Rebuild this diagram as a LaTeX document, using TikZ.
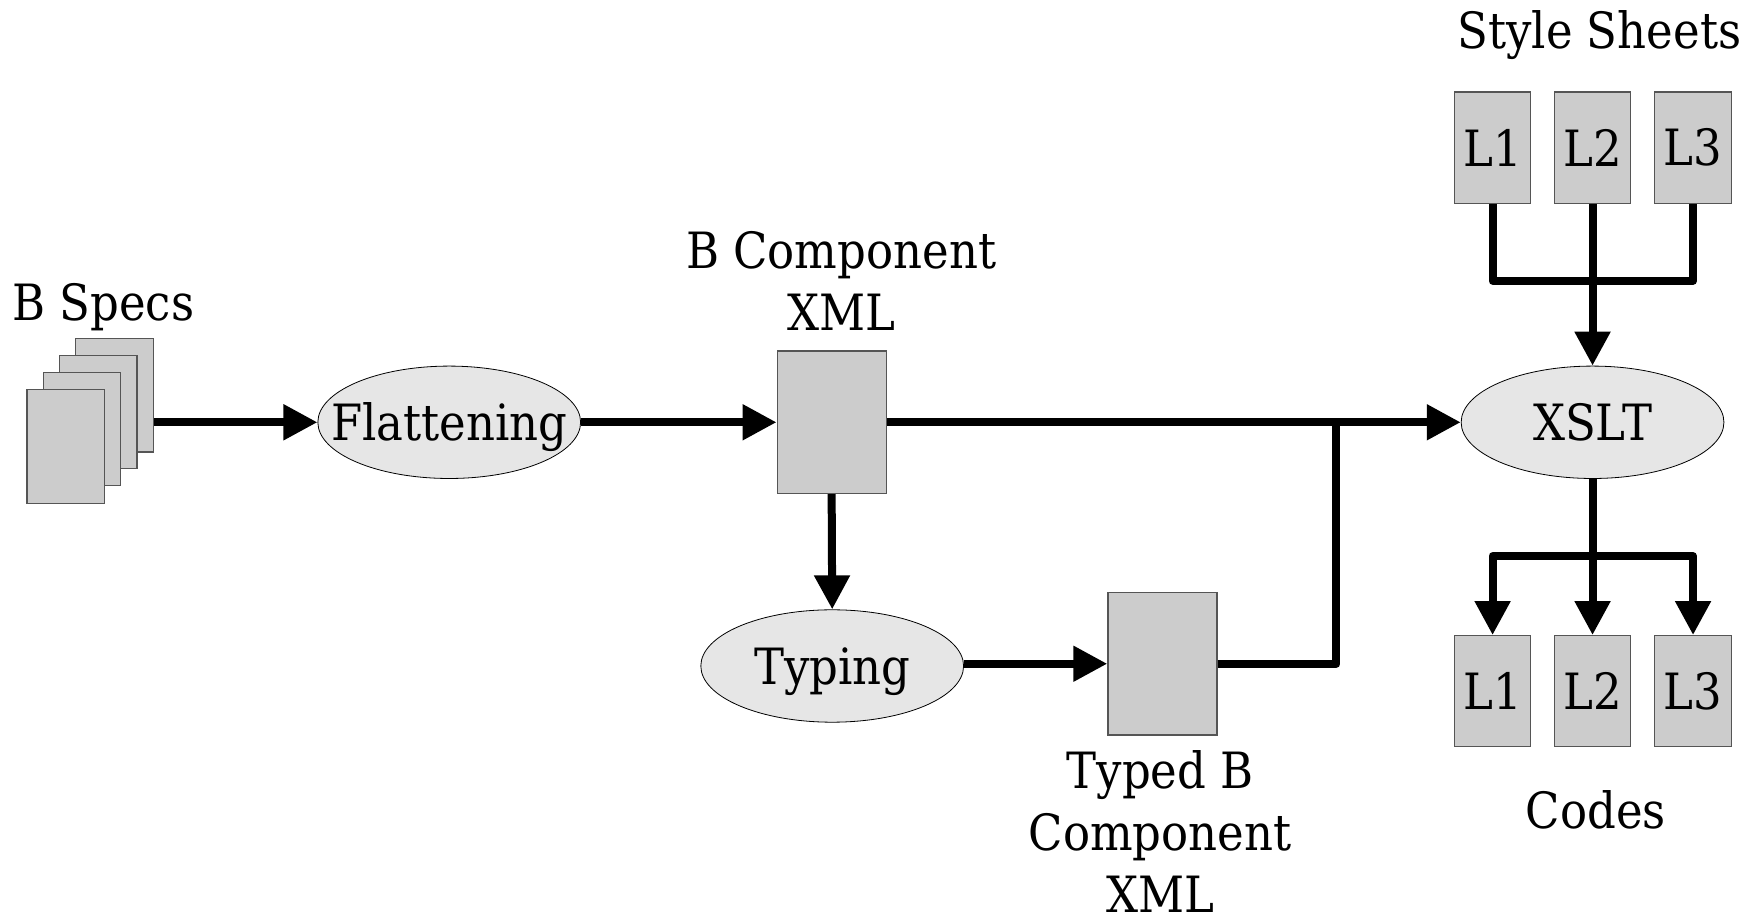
\documentclass[tikz,border=0pt]{standalone}
\usepackage{fontspec}
\setmainfont[FakeStretch=0.9]{DejaVu Serif}
\usetikzlibrary{arrows.meta,shapes.geometric}
\definecolor{boxfill}{HTML}{CCCCCC}
\definecolor{boxline}{HTML}{555555}
\definecolor{ellfill}{HTML}{E6E6E6}
\newcommand{\elltext}[1]{\makebox[0pt]{\raisebox{-0.365em}[0pt][0pt]{#1}}}
\begin{document}
\begin{tikzpicture}[x=0.5616pt,y=-0.5616pt,
  font=\fontsize{25}{31}\selectfont,
  docbox/.style={draw=boxline,fill=boxfill,line width=0.6pt,inner sep=0pt},
  bigbox/.style={docbox,minimum width=54.5pt,minimum height=71.3pt},
  lbox/.style={docbox,minimum width=38.2pt,minimum height=55.6pt},
  page/.style={docbox,minimum width=38.8pt,minimum height=56.7pt},
  proc/.style={ellipse,draw=black,fill=ellfill,line width=0.4pt,minimum width=131.4pt,minimum height=56.2pt,inner sep=0pt},
  conn/.style={line width=4pt,line join=round},
  arr/.style={conn,-{Triangle[length=17pt,width=17pt]}},
  lbl/.style={inner sep=0pt,align=center}
]
\useasboundingbox (0,0) rectangle (1568,820);

\node[lbl,anchor=base] (bspecs) at (92,285) {B Specs};
\node[page] (p4) at (102,352) {};
\node[page] (p3) at (87.5,367) {};
\node[page] (p2) at (73,382) {};
\node[page] (p1) at (58.5,397.5) {};

\node[proc] (flat) at (400,376) {\elltext{Flattening}};
\node[bigbox] (bcx) at (740.5,376) {};
\node[lbl,anchor=north] (bcxl) at (749,206) {B Component\\XML};

\node[proc] (typing) at (741,593) {\elltext{Typing}};
\node[bigbox] (tbcx) at (1035,591) {};
\node[lbl,anchor=north] (tbcxl) at (1033,668) {Typed B\\Component\\XML};

\node[proc] (xslt) at (1418,376) {\elltext{XSLT}};

\node[lbl,anchor=base] (ss) at (1424,43) {Style Sheets};
\node[lbox] (s1) at (1329,131.5) {L1};
\node[lbox] (s2) at (1418,131.5) {L2};
\node[lbox] (s3) at (1507.5,131.5) {L3};

\node[lbox] (c1) at (1329,615.5) {L1};
\node[lbox] (c2) at (1418,615.5) {L2};
\node[lbox] (c3) at (1507.5,615.5) {L3};
\node[lbl,anchor=base] (codes) at (1421,738) {Codes};

\coordinate (join) at (1190,376);
\coordinate (sj) at (1418,250);
\coordinate (cj) at (1418,495);

\draw[arr] (p4.east |- flat.west) -- (flat.west);
\draw[arr] (flat.east) -- (bcx.west);
\draw[arr] (bcx.east) -- (xslt.west);
\draw[arr] (bcx.south) -- (typing.north);
\draw[arr] (typing.east |- tbcx.west) -- (tbcx.west);
\draw[conn] (tbcx.east) -| (join);
\draw[conn] (s1.south) |- (sj) -| (s3.south);
\draw[arr] (s2.south) -- (xslt.north);
\draw[conn] (xslt.south) -- (cj);
\draw[arr] (cj) -| (c1.north);
\draw[arr] (cj) -- (c2.north);
\draw[arr] (cj) -| (c3.north);
\end{tikzpicture}
\end{document}
